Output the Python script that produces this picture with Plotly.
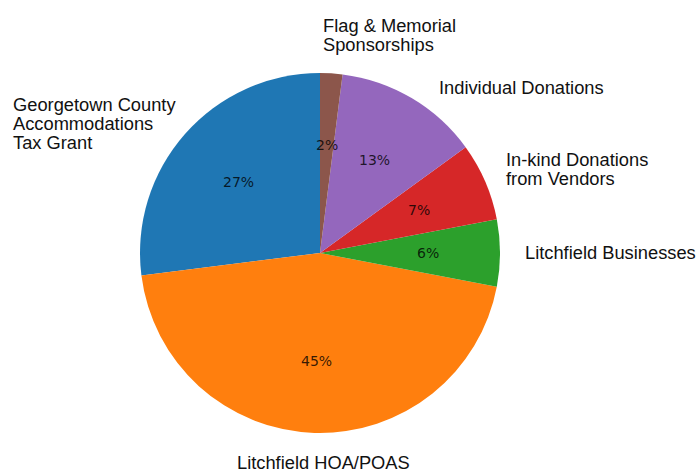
import math
import plotly.graph_objects as go

# ---------------- data ----------------
categories = [
    "Georgetown County<br>Accommodations<br>Tax Grant",
    "Litchfield HOA/POAS",
    "Litchfield Businesses",
    "In-kind Donations<br>from Vendors",
    "Individual Donations",
    "Flag & Memorial<br>Sponsorships",
]
shares = [27, 45, 6, 7, 13, 2]

# ---------------- style / layout ----------------
W, H = 699, 472
CX, CY, R = 320, 253, 180          # pie centre and radius in pixels
colors = ["#1f77b4", "#ff7f0e", "#2ca02c", "#d62728", "#9467bd", "#8c564b"]
LABEL_FONT = dict(family="Liberation Sans, Arial, sans-serif", size=18.3, color="#111111")
PCT_FONT = dict(family="DejaVu Sans, sans-serif", size=14, color="rgba(0,0,0,0.8)")
LINE_STEP = 19                     # px between label lines
LABEL_DIST, PCT_DIST = 1.1, 0.6
# (dx, dy, xanchor) nudges applied to each computed label anchor (px, y down)
LABEL_NUDGE = [
    (-160.5, -17.9, "left"),
    (9.7, 11.8, "center"),
    (5.0, -0.3, "left"),
    (2.3, -15.0, "left"),
    (16.2, 5.1, "left"),
    (-11.4, -30.2, "left"),
]

total = sum(shares)

fig = go.Figure(
    go.Pie(
        labels=[c.replace("<br>", " ") for c in categories],
        values=shares,
        marker=dict(colors=colors, line=dict(width=0)),
        sort=False,
        direction="counterclockwise",
        # plotly ends the first counter-clockwise slice at `rotation`,
        # so shift it so that the first slice starts at 12 o'clock
        rotation=-360.0 * shares[0] / total,
        textinfo="none",
        hoverinfo="label+percent",
        showlegend=False,
        domain=dict(
            x=[(CX - R) / W, (CX + R) / W],
            y=[1 - (CY + R) / H, 1 - (CY - R) / H],
        ),
    )
)

annotations = []
start = 90.0
for i, (cat, v) in enumerate(zip(categories, shares)):
    span = 360.0 * v / total
    mid = math.radians(start + span / 2)
    start += span
    # percentage label
    px = CX + PCT_DIST * R * math.cos(mid)
    py = CY - PCT_DIST * R * math.sin(mid)
    annotations.append(dict(
        x=px / W, y=1 - py / H, xref="paper", yref="paper",
        text=f"{100 * v / total:.0f}%", showarrow=False,
        xanchor="center", yanchor="middle", font=PCT_FONT,
    ))
    # category label, one annotation per line
    lx = CX + LABEL_DIST * R * math.cos(mid)
    ly = CY - LABEL_DIST * R * math.sin(mid)
    dx, dy, xa = LABEL_NUDGE[i]
    for j, line in enumerate(cat.split("<br>")):
        yy = ly + dy + j * LINE_STEP
        annotations.append(dict(
            x=(lx + dx) / W, y=1 - yy / H, xref="paper", yref="paper",
            text=line, showarrow=False, xanchor=xa, yanchor="middle",
            font=LABEL_FONT,
        ))

fig.update_layout(
    width=W, height=H,
    margin=dict(l=0, r=0, t=0, b=0),
    paper_bgcolor="white", plot_bgcolor="white",
    annotations=annotations,
)

fig.write_html(
    "out.html",
    config={"displayModeBar": False},
    post_script="document.body.style.margin='0px';document.body.style.overflow='hidden';",
)
